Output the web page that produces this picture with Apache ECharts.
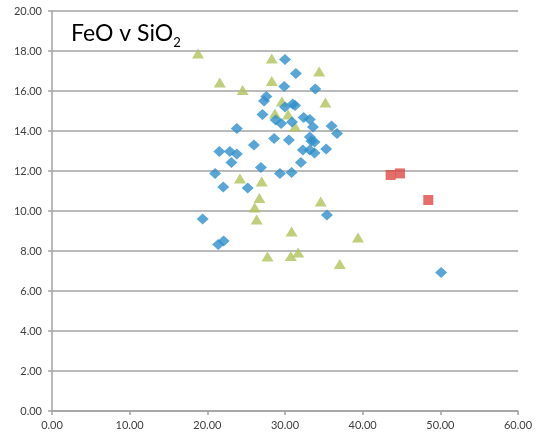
<!DOCTYPE html>
<html>
<head>
<meta charset="utf-8">
<script src="https://cdn.jsdelivr.net/npm/echarts@6/dist/echarts.min.js"></script>
<style>
  html, body { margin: 0; padding: 0; background: #fff; }
  #chart { width: 540px; height: 437px; }
</style>
</head>
<body>
<div id="chart"></div>
<script>
// Group A (blue diamonds): SiO2 and FeO wt%
const sio2A = [30.0, 31.4, 29.9, 33.9, 27.6, 27.3, 30.0, 31.0, 31.3, 27.1,
               28.8, 29.5, 30.9, 32.4, 33.2, 33.6, 36.0, 36.7, 23.8, 28.6,
               30.5, 33.2, 33.4, 33.8, 35.3, 32.3, 33.2, 33.8, 26.0, 21.55,
               22.9, 23.8, 23.1, 32.05, 26.9, 21.0, 29.35, 30.85, 22.05, 25.2,
               35.4, 19.4, 21.4, 22.1, 50.1];
const feoA  = [17.58, 16.88, 16.22, 16.10, 15.72, 15.50, 15.20, 15.35, 15.27, 14.83,
               14.55, 14.38, 14.45, 14.68, 14.58, 14.20, 14.25, 13.88, 14.13, 13.63,
               13.55, 13.70, 13.50, 13.45, 13.10, 13.05, 13.05, 12.90, 13.30, 12.97,
               12.97, 12.85, 12.42, 12.42, 12.17, 11.88, 11.88, 11.92, 11.20, 11.15,
               9.80, 9.60, 8.33, 8.50, 6.93];

// Group B (green triangles)
const sio2B = [18.8, 28.3, 34.4, 21.6, 28.3, 24.55, 35.2, 29.6, 28.7, 30.4,
               31.3, 24.2, 27.0, 26.7, 26.1, 26.35, 34.6, 30.85, 39.4, 27.75,
               30.75, 31.7, 37.05];
const feoB  = [17.88, 17.63, 16.98, 16.42, 16.50, 16.05, 15.42, 15.47, 14.88, 14.83,
               14.22, 11.63, 11.47, 10.65, 10.17, 9.57, 10.47, 8.97, 8.68, 7.72,
               7.75, 7.92, 7.35];

// Group C (red squares)
const sio2C = [43.6, 44.8, 48.45];
const feoC  = [11.80, 11.88, 10.55];

const xTicks = [0, 10, 20, 30, 40, 50, 60];
const yTicks = [0, 2, 4, 6, 8, 10, 12, 14, 16, 18, 20];

const zip = (xs, ys) => xs.map((x, i) => [x, ys[i]]);

const axisFont = { fontFamily: 'Lato, "Liberation Sans", sans-serif', fontSize: 11, color: '#404040' };
const lineGray = '#a3a3a3';
const titleFont = 'Lato, "Liberation Sans", sans-serif';

const chart = echarts.init(document.getElementById('chart'), null, { renderer: 'canvas' });
chart.setOption({
  animation: false,
  backgroundColor: '#ffffff',
  title: {
    left: 66,
    top: 12,
    text: '{a|FeO v SiO}{b|2}',
    textStyle: {
      fontWeight: 'normal',
      rich: {
        a: { fontFamily: titleFont, fontWeight: 'normal', fontSize: 23, color: '#000', verticalAlign: 'bottom', lineHeight: 28 },
        b: { fontFamily: titleFont, fontWeight: 'normal', fontSize: 13, color: '#000', verticalAlign: 'bottom', lineHeight: 22, padding: [0, 0, -4, 0] }
      }
    }
  },
  grid: { left: 52, right: 22, top: 11, bottom: 26, containLabel: false },
  xAxis: {
    type: 'value',
    min: xTicks[0],
    max: xTicks[xTicks.length - 1],
    interval: 10,
    axisLine: { show: true, onZero: false, lineStyle: { color: lineGray, width: 1.5 } },
    axisTick: { show: true, length: 4, lineStyle: { color: lineGray, width: 1.5 } },
    axisLabel: Object.assign({ margin: 9, formatter: v => v.toFixed(2) }, axisFont),
    splitLine: { show: false }
  },
  yAxis: {
    type: 'value',
    min: yTicks[0],
    max: yTicks[yTicks.length - 1],
    interval: 2,
    axisLine: { show: true, onZero: false, lineStyle: { color: lineGray, width: 1.5 } },
    axisTick: { show: true, length: 4, lineStyle: { color: lineGray, width: 1.5 } },
    axisLabel: Object.assign({ margin: 10, formatter: v => v.toFixed(2) }, axisFont),
    splitLine: { show: true, lineStyle: { color: lineGray, width: 1.5 } }
  },
  series: [
    {
      type: 'scatter',
      data: zip(sio2B, feoB),
      symbol: 'triangle',
      symbolSize: [12, 10],
      itemStyle: { color: '#afc35a' },
      z: 2
    },
    {
      type: 'scatter',
      data: zip(sio2A, feoA),
      symbol: 'diamond',
      symbolSize: [12, 11],
      itemStyle: { color: '#2e8fcc' },
      z: 3
    },
    {
      type: 'scatter',
      data: zip(sio2C, feoC),
      symbol: 'rect',
      symbolSize: [10, 10],
      itemStyle: { color: '#dc4a45' },
      z: 4
    }
  ]
});
</script>
</body>
</html>
